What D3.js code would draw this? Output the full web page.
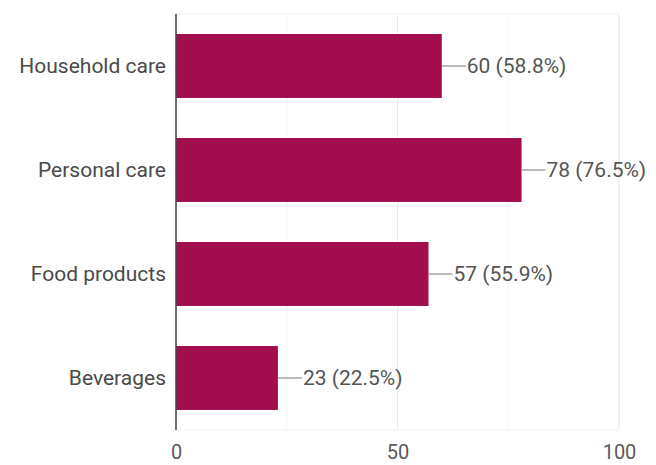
<!DOCTYPE html>
<html>
<head>
<meta charset="utf-8">
<script src="https://cdn.jsdelivr.net/npm/d3@7"></script>
<style>
  html, body { margin: 0; padding: 0; background: #fff; }
  svg { display: block; font-family: Roboto, "Noto Sans", sans-serif; }
</style>
</head>
<body>
<svg id="chart" width="656" height="465"></svg>
<script>
// Survey responses per product category
const categories = ["Household care", "Personal care", "Food products", "Beverages"];
const counts = [60, 78, 57, 23];
const percents = ["58.8%", "76.5%", "55.9%", "22.5%"];
const majorTicks = [0, 50, 100];
const minorTicks = [25, 75];

const svg = d3.select("#chart");
const plot = { left: 176, right: 619, top: 14, bottom: 430 };
const fontSize = 21;
const tickFontSize = 20;

const x = d3.scaleLinear().domain([0, 100]).range([plot.left, plot.right]);
const y = d3.scaleBand()
  .domain(categories)
  .range([plot.top, plot.bottom])
  .paddingInner(0.385)
  .paddingOuter(0.1925);

// light frame and gridlines
svg.append("rect")
  .attr("x", plot.left).attr("y", plot.top)
  .attr("width", plot.right - plot.left).attr("height", plot.bottom - plot.top)
  .attr("fill", "none").attr("stroke", "#f2f2f2").attr("stroke-width", 1);

svg.append("g").selectAll("line").data(minorTicks).join("line")
  .attr("x1", d => x(d)).attr("x2", d => x(d))
  .attr("y1", plot.top).attr("y2", plot.bottom)
  .attr("stroke", "#f6f6f6").attr("stroke-width", 1);

svg.append("g").selectAll("line").data(majorTicks.slice(1)).join("line")
  .attr("x1", d => x(d)).attr("x2", d => x(d))
  .attr("y1", plot.top).attr("y2", plot.bottom)
  .attr("stroke", "#ebebeb").attr("stroke-width", 1);

// bars
svg.append("g").selectAll("rect").data(categories).join("rect")
  .attr("x", x(0))
  .attr("y", d => y(d))
  .attr("width", (d, i) => x(counts[i]) - x(0))
  .attr("height", y.bandwidth())
  .attr("fill", "#a20d4d");

// value labels with leader lines
const labels = svg.append("g");
categories.forEach((c, i) => {
  const cy = y(c) + y.bandwidth() / 2;
  const x0 = x(counts[i]);
  labels.append("line")
    .attr("x1", x0).attr("x2", x0 + 24)
    .attr("y1", cy).attr("y2", cy)
    .attr("stroke", "#777").attr("stroke-width", 1);
  labels.append("text")
    .attr("x", x0 + 25).attr("y", cy)
    .attr("dy", "0.35em")
    .attr("font-size", fontSize)
    .attr("fill", "#555")
    .text(`${counts[i]} (${percents[i]})`);
});

// category axis
const yAxis = svg.append("g")
  .attr("transform", `translate(${plot.left},0)`)
  .call(d3.axisLeft(y).tickSize(0).tickPadding(10));
yAxis.select(".domain").remove();
yAxis.selectAll("text")
  .attr("font-size", fontSize)
  .attr("font-family", "Roboto, sans-serif")
  .attr("fill", "#4a4a4a");

svg.append("line")
  .attr("x1", plot.left).attr("x2", plot.left)
  .attr("y1", plot.top).attr("y2", plot.bottom)
  .attr("stroke", "#444").attr("stroke-width", 1.5);

// value axis
const xAxis = svg.append("g")
  .attr("transform", `translate(0,${plot.bottom})`)
  .call(d3.axisBottom(x).tickValues(majorTicks).tickSize(0).tickPadding(15));
xAxis.select(".domain").remove();
xAxis.selectAll("text")
  .attr("font-size", tickFontSize)
  .attr("font-family", "Roboto, sans-serif")
  .attr("fill", "#5a5a5a");
</script>
</body>
</html>
